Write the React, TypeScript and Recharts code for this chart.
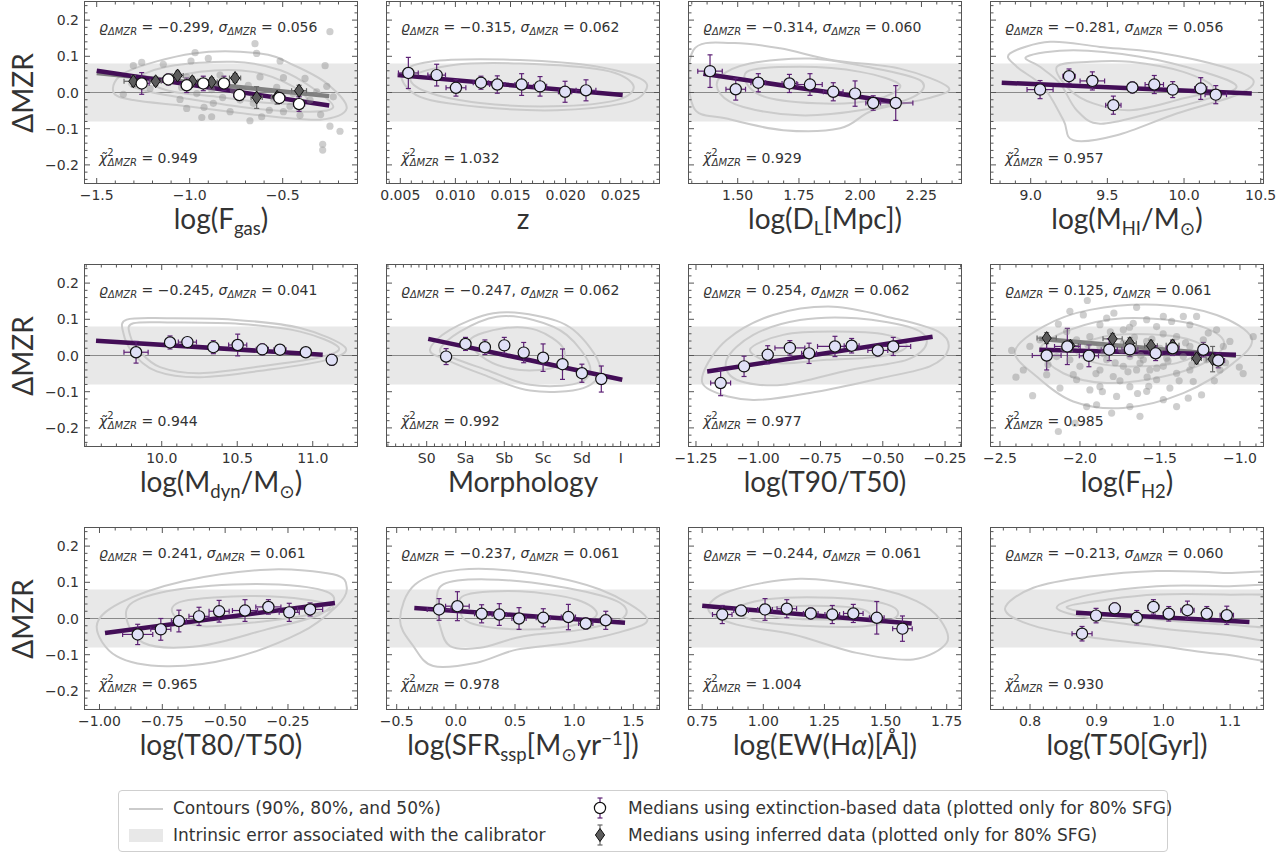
import React from 'react';
import { ComposedChart, XAxis, YAxis, Line, Area, Scatter, ErrorBar } from 'recharts';

type XY = [number, number];
type Med = [number, number, number, number]; // x, y, xerr, yerr

// ---------- values ----------
const rhoValues = [-0.299, -0.315, -0.314, -0.281, -0.245, -0.247, 0.254, 0.125, 0.241, -0.237, -0.244, -0.213];
const sigmaValues = [0.056, 0.062, 0.060, 0.056, 0.041, 0.062, 0.062, 0.061, 0.061, 0.061, 0.061, 0.060];
const chiValues = [0.949, 1.032, 0.929, 0.957, 0.944, 0.992, 0.977, 0.985, 0.965, 0.978, 1.004, 0.930];

const yMajor = [-0.2, -0.1, 0, 0.1, 0.2];
const bandLimits = [-0.08, 0.08];
const morphNames = ['S0', 'Sa', 'Sb', 'Sc', 'Sd', 'I'];

// log(Fgas)
const fgasTicks = [-1.5, -1.0, -0.5];
const fgasMedians: Med[] = [
  [-1.258, 0.025, 0.04, 0.03], [-1.115, 0.036, 0.03, 0.015], [-1.016, 0.02, 0.03, 0.02],
  [-0.927, 0.025, 0.03, 0.02], [-0.816, 0.025, 0.03, 0.02], [-0.733, -0.007, 0.03, 0.015],
  [-0.518, -0.015, 0.03, 0.015], [-0.412, -0.032, 0.03, 0.02],
];
const fgasInferred: Med[] = [
  [-1.303, 0.031, 0.05, 0.015], [-1.183, 0.031, 0.03, 0.012], [-1.065, 0.047, 0.03, 0.012],
  [-0.986, 0.031, 0.03, 0.012], [-0.882, 0.029, 0.03, 0.012], [-0.756, 0.04, 0.03, 0.012],
  [-0.64, -0.014, 0.03, 0.03], [-0.53, -0.012, 0.03, 0.02], [-0.412, 0.005, 0.04, 0.015],
];
const fgasFit: XY[] = [[-1.5, 0.06], [-0.25, -0.036]];
const fgasFitInferred: XY[] = [[-1.5, 0.054], [-0.25, -0.01]];
const fgasContours: XY[][] = [
  [[-1.411, 0.002], [-1.339, 0.057], [-0.981, 0.108], [-0.622, 0.108], [-0.443, 0.076], [-0.263, 0.025],
   [-0.156, -0.044], [-0.3, -0.075], [-0.622, -0.063], [-1.016, -0.038], [-1.303, -0.021]],
  [[-1.321, 0.029], [-1.124, 0.071], [-0.766, 0.085], [-0.515, 0.062], [-0.335, 0.011], [-0.228, -0.04],
   [-0.353, -0.053], [-0.658, -0.044], [-1.016, -0.017], [-1.249, 0.006]],
  [[-1.177, 0.025], [-0.945, 0.057], [-0.658, 0.057], [-0.443, 0.016], [-0.371, -0.026], [-0.551, -0.03],
   [-0.855, -0.012], [-1.088, 0.002]],
];
const fgasPoints: XY[] = [
  [-0.246, 0.168], [-0.649, 0.135], [-0.64, 0.108], [-0.971, 0.11], [-0.9, 0.094], [-0.993, 0.087],
  [-0.514, 0.087], [-1.258, 0.083], [-1.303, 0.074], [-1.142, 0.078], [-0.272, 0.074], [-0.38, 0.039],
  [-0.496, 0.041], [-0.532, 0.014], [-0.685, 0.02], [-0.882, 0.008], [-1.043, 0.014], [-0.823, -0.014],
  [-1.016, -0.044], [-0.923, -0.041], [-0.935, -0.069], [-0.882, -0.067], [-0.783, -0.053], [-0.676, -0.078],
  [-0.613, -0.067], [-0.572, -0.049], [-0.496, -0.053], [-0.461, -0.038], [-0.407, -0.063], [-0.296, -0.061],
  [-0.246, -0.093], [-0.192, -0.107], [-0.285, -0.143], [-0.285, -0.159], [-0.263, 0.017], [-1.357, -0.005],
  [-1.052, -0.019], [-0.765, 0.006], [-0.729, -0.021], [-1.124, 0.034], [-1.016, 0.043], [-0.837, 0.048],
  [-0.622, 0.043], [-0.443, -0.003], [-0.353, -0.021], [-1.213, 0.011], [-0.962, -0.003], [-0.55, -0.017],
  [-0.658, -0.03], [-0.873, -0.03], [-0.228, -0.012], [-0.317, 0.002],
];

// z
const zTicks = [0.005, 0.01, 0.015, 0.02, 0.025];
const zMedians: Med[] = [
  [0.00573, 0.054, 0.0009, 0.043], [0.0083, 0.048, 0.0008, 0.03], [0.01005, 0.013, 0.0009, 0.023],
  [0.01232, 0.027, 0.0007, 0.018], [0.0138, 0.022, 0.0007, 0.024], [0.01601, 0.022, 0.0006, 0.03],
  [0.01768, 0.017, 0.0006, 0.027], [0.01995, 0.002, 0.0006, 0.029], [0.02185, 0.006, 0.0009, 0.029],
];
const zFit: XY[] = [[0.00476, 0.048], [0.02518, -0.007]];
const zContours: XY[][] = [
  [[0.00513, 0.051], [0.0077, 0.085], [0.01435, 0.091], [0.02191, 0.076], [0.02675, 0.039], [0.0272, 0.002],
   [0.02524, -0.03], [0.01919, -0.049], [0.01223, -0.04], [0.00679, -0.012]],
  [[0.00603, 0.043], [0.00981, 0.076], [0.01586, 0.08], [0.02342, 0.062], [0.02614, 0.02], [0.02464, -0.021],
   [0.01888, -0.038], [0.01223, -0.029], [0.0074, 0.002]],
];

// log(DL)
const dlTicks = [1.5, 1.75, 2.0, 2.25];
const dlMedians: Med[] = [
  [1.387, 0.059, 0.05, 0.045], [1.492, 0.009, 0.04, 0.03], [1.584, 0.027, 0.03, 0.025],
  [1.711, 0.025, 0.03, 0.025], [1.795, 0.022, 0.05, 0.03], [1.89, 0.002, 0.04, 0.025],
  [1.979, -0.003, 0.02, 0.035], [2.053, -0.029, 0.03, 0.02], [2.145, -0.029, 0.07, 0.048],
];
const dlFit: XY[] = [[1.36, 0.052], [2.167, -0.029]];
const dlContours: XY[][] = [
  [[1.319, 0.117], [1.482, 0.137], [1.673, 0.122], [1.89, 0.089], [2.162, 0.066], [2.36, 0.014], [2.271, -0.017],
   [2.053, -0.049], [1.918, -0.099], [1.686, -0.104], [1.455, -0.072], [1.319, -0.04]],
  [[1.428, 0.043], [1.55, 0.08], [1.795, 0.094], [2.026, 0.071], [2.244, 0.034], [2.217, -0.012], [2.0, -0.049],
   [1.754, -0.063], [1.523, -0.04], [1.428, -0.003]],
  [[1.537, 0.057], [1.754, 0.071], [2.0, 0.057], [2.163, 0.02], [2.053, -0.021], [1.822, -0.03], [1.591, -0.007]],
];

// log(MHI)
const mhiTicks = [9.0, 9.5, 10.0, 10.5];
const mhiMedians: Med[] = [
  [9.061, 0.008, 0.085, 0.025], [9.25, 0.045, 0.04, 0.02], [9.402, 0.032, 0.08, 0.025],
  [9.539, -0.035, 0.05, 0.025], [9.663, 0.014, 0.03, 0.015], [9.806, 0.022, 0.06, 0.025],
  [9.926, 0.008, 0.03, 0.022], [10.109, 0.011, 0.04, 0.03], [10.207, -0.006, 0.07, 0.025],
];
const mhiFit: XY[] = [[8.811, 0.027], [10.442, -0.003]];
const mhiContours: XY[][] = [
  [[8.865, 0.108], [9.126, 0.14], [9.452, 0.126], [9.865, 0.108], [10.256, 0.071], [10.452, 0.034],
   [10.343, -0.007], [9.952, -0.058], [9.561, -0.118], [9.278, -0.132], [9.213, -0.076], [9.082, 0.016], [8.909, 0.071]],
  [[8.974, 0.099], [9.278, 0.117], [9.713, 0.099], [10.126, 0.057], [10.343, 0.016], [10.126, -0.021],
   [9.778, -0.058], [9.452, -0.086], [9.3, -0.049], [9.191, 0.025], [9.061, 0.071]],
  [[9.17, 0.071], [9.387, 0.085], [9.648, 0.085], [9.995, 0.057], [10.191, 0.011], [9.952, -0.021],
   [9.648, -0.049], [9.408, -0.03], [9.256, 0.007]],
];

// log(Mdyn)
const mdynTicks = [10.0, 10.5, 11.0];
const mdynMedians: Med[] = [
  [9.83, 0.009, 0.08, 0.03], [10.055, 0.036, 0.03, 0.018], [10.17, 0.037, 0.06, 0.012],
  [10.342, 0.023, 0.03, 0.018], [10.503, 0.029, 0.06, 0.03], [10.666, 0.017, 0.04, 0.015],
  [10.783, 0.016, 0.04, 0.012], [10.954, 0.009, 0.03, 0.01], [11.126, -0.012, 0.02, 0.015],
];
const mdynFit: XY[] = [[9.565, 0.041], [11.066, 0.002]];
const mdynContours: XY[][] = [
  [[9.768, 0.099], [10.033, 0.103], [10.474, 0.099], [10.916, 0.076], [11.214, 0.023], [11.093, -0.012],
   [10.695, -0.04], [10.254, -0.06], [9.967, -0.044], [9.812, 0.006], [9.746, 0.062]],
  [[9.812, 0.089], [10.077, 0.091], [10.519, 0.087], [10.916, 0.066], [11.17, 0.023], [11.048, -0.005],
   [10.673, -0.029], [10.254, -0.049], [9.989, -0.032], [9.856, 0.011], [9.79, 0.057]],
];

// Morphology (S0 = 0 ... I = 5)
const morphTicks = [0, 1, 2, 3, 4, 5];
const morphMedians: Med[] = [
  [0.5, -0.003, 0, 0.022], [1.0, 0.032, 0, 0.018], [1.5, 0.023, 0, 0.02],
  [2.0, 0.028, 0, 0.022], [2.5, 0.008, 0, 0.028], [3.0, -0.006, 0, 0.038],
  [3.5, -0.024, 0, 0.042], [4.0, -0.049, 0, 0.025], [4.5, -0.065, 0, 0.036],
];
const morphFit: XY[] = [[0.04, 0.046], [5.04, -0.067]];
const morphContours: XY[][] = [
  [[0.085, 0.016], [0.601, 0.071], [1.717, 0.117], [2.835, 0.11], [3.779, 0.071], [4.466, -0.03],
   [4.036, -0.09], [2.662, -0.097], [1.459, -0.053], [0.515, -0.012]],
  [[0.343, 0.016], [0.858, 0.066], [1.804, 0.107], [2.749, 0.098], [3.608, 0.057], [4.209, -0.03],
   [3.866, -0.077], [2.662, -0.081], [1.546, -0.04], [0.686, -0.007]],
  [[1.116, 0.043], [1.974, 0.075], [2.835, 0.07], [3.521, 0.02], [3.351, -0.03], [2.405, -0.04], [1.546, -0.012]],
];

// log(T90/T50)
const t90Ticks = [-1.25, -1.0, -0.75, -0.5, -0.25];
const t90Medians: Med[] = [
  [-1.151, -0.076, 0.04, 0.035], [-1.057, -0.03, 0.02, 0.028], [-0.962, 0.002, 0.02, 0.025],
  [-0.873, 0.021, 0.06, 0.02], [-0.796, 0.006, 0.03, 0.028], [-0.692, 0.025, 0.07, 0.028],
  [-0.625, 0.027, 0.03, 0.02], [-0.52, 0.014, 0.04, 0.015], [-0.458, 0.025, 0.07, 0.025],
];
const t90Fit: XY[] = [[-1.205, -0.044], [-0.3, 0.052]];
const t90Contours: XY[][] = [
  [[-1.221, -0.049], [-1.127, 0.043], [-0.94, 0.112], [-0.699, 0.135], [-0.458, 0.103], [-0.277, 0.066],
   [-0.237, 0.017], [-0.311, -0.03], [-0.511, -0.063], [-0.765, -0.1], [-1.02, -0.123], [-1.194, -0.095]],
  [[-1.127, -0.012], [-1.02, 0.057], [-0.833, 0.098], [-0.605, 0.103], [-0.378, 0.075], [-0.324, 0.034],
   [-0.404, -0.012], [-0.632, -0.04], [-0.9, -0.081], [-1.087, -0.067]],
  [[-1.033, 0.016], [-0.9, 0.057], [-0.699, 0.066], [-0.484, 0.057], [-0.404, 0.025], [-0.511, -0.003],
   [-0.725, -0.012], [-0.926, -0.021]],
];

// log(FH2)
const fh2Ticks = [-2.5, -2.0, -1.5, -1.0];
const fh2Medians: Med[] = [
  [-2.208, 0.0, 0.09, 0.04], [-2.079, 0.025, 0.08, 0.05], [-1.944, -0.001, 0.06, 0.03],
  [-1.817, 0.016, 0.05, 0.03], [-1.688, 0.017, 0.05, 0.02], [-1.527, 0.006, 0.04, 0.02],
  [-1.421, 0.02, 0.04, 0.02], [-1.229, 0.016, 0.03, 0.02], [-1.136, -0.014, 0.04, 0.02],
];
const fh2Inferred: Med[] = [
  [-2.208, 0.048, 0.06, 0.015], [-2.06, 0.027, 0.05, 0.015], [-1.796, 0.046, 0.06, 0.015],
  [-1.688, 0.034, 0.04, 0.015], [-1.556, 0.027, 0.04, 0.015], [-1.421, 0.028, 0.04, 0.015],
  [-1.271, -0.008, 0.03, 0.015], [-1.171, -0.01, 0.04, 0.035],
];
const fh2Fit: XY[] = [[-2.254, 0.016], [-1.025, 0.002]];
const fh2FitInferred: XY[] = [[-2.254, 0.046], [-1.025, -0.001]];
const fh2Contours: XY[][] = [
  [[-2.406, 0.011], [-2.229, 0.08], [-1.938, 0.126], [-1.521, 0.14], [-1.146, 0.112], [-0.927, 0.048],
   [-1.042, -0.021], [-1.354, -0.104], [-1.729, -0.145], [-2.042, -0.127], [-2.271, -0.058]],
  [[-2.25, 0.016], [-2.063, 0.071], [-1.729, 0.103], [-1.313, 0.089], [-1.104, 0.043], [-1.188, -0.012],
   [-1.479, -0.058], [-1.833, -0.076], [-2.104, -0.049]],
  [[-2.021, 0.025], [-1.771, 0.057], [-1.396, 0.052], [-1.229, 0.02], [-1.396, -0.021], [-1.729, -0.03], [-1.958, -0.012]],
];
const fh2Points: XY[] = [
  [-1.954, 0.152], [-2.063, 0.122], [-2.135, 0.087], [-1.788, 0.117], [-1.646, 0.133], [-1.583, 0.099],
  [-1.427, 0.094], [-1.354, 0.108], [-1.521, 0.08], [-1.198, 0.062], [-1.063, 0.039], [-0.917, 0.052],
  [-1.004, -0.032], [-2.296, -0.111], [-2.427, 0.014], [-2.354, -0.04], [-2.208, -0.053], [-2.125, -0.09],
  [-2.021, -0.067], [-1.938, -0.095], [-1.958, -0.141], [-1.896, -0.136], [-2.135, -0.21], [-2.031, -0.187],
  [-1.802, -0.159], [-1.625, -0.168], [-1.396, -0.141], [-1.323, -0.118], [-1.24, -0.109], [-1.438, -0.09],
  [-1.521, -0.067], [-1.688, -0.086], [-1.792, -0.058], [-1.875, -0.04], [-1.729, -0.03], [-1.625, -0.021],
  [-1.563, -0.04], [-1.479, -0.03], [-1.396, -0.049], [-1.313, -0.04], [-2.021, 0.043], [-1.938, 0.052],
  [-1.875, 0.025], [-1.729, 0.034], [-1.646, 0.02], [-1.583, 0.039], [-1.5, 0.02], [-1.396, 0.052],
  [-1.313, 0.025], [-1.229, 0.043], [-1.104, 0.025], [-2.25, 0.043], [-2.313, 0.025], [-2.146, -0.003],
  [-2.063, -0.012], [-1.833, -0.012], [-1.688, -0.003], [-1.604, -0.012], [-1.458, -0.007], [-1.354, -0.003],
  [-1.208, -0.012], [-2.083, 0.066], [-1.875, 0.085], [-1.729, 0.071], [-1.667, 0.089], [-1.479, 0.108],
  [-1.313, 0.085], [-1.833, 0.103], [-1.979, 0.112], [-1.646, -0.04], [-1.771, -0.113], [-1.583, -0.099],
  [-1.875, -0.086], [-2.042, -0.053], [-1.292, -0.072], [-1.125, -0.04], [-1.479, -0.122], [-1.688, -0.141],
  [-1.146, 0.071], [-1.271, 0.108],
  [-1.85, 0.005], [-1.78, -0.02], [-1.74, 0.015], [-1.7, -0.045], [-1.66, 0.05], [-1.62, 0.0],
  [-1.58, -0.06], [-1.55, 0.045], [-1.52, -0.035], [-1.48, 0.06], [-1.45, -0.015], [-1.42, 0.01],
  [-1.38, -0.07], [-1.34, 0.035], [-1.3, -0.025], [-1.9, -0.05], [-1.95, 0.03], [-2.0, -0.03],
  [-1.81, 0.065], [-1.69, 0.078], [-1.57, -0.085], [-1.64, -0.105], [-1.75, -0.07], [-1.86, -0.1],
  [-2.1, 0.02], [-2.2, -0.025], [-1.16, -0.07], [-1.09, -0.02], [-0.98, -0.05], [-2.4, -0.06],
];

// log(T80/T50)
const t80Ticks = [-1.0, -0.75, -0.5, -0.25];
const t80Medians: Med[] = [
  [-0.848, -0.044, 0.06, 0.028], [-0.756, -0.03, 0.04, 0.03], [-0.684, -0.007, 0.03, 0.03],
  [-0.604, 0.006, 0.04, 0.025], [-0.524, 0.02, 0.04, 0.03], [-0.421, 0.022, 0.05, 0.03],
  [-0.328, 0.032, 0.05, 0.02], [-0.245, 0.017, 0.04, 0.025], [-0.162, 0.025, 0.05, 0.018],
];
const t80Fit: XY[] = [[-0.978, -0.04], [-0.063, 0.043]];
const t80Contours: XY[][] = [
  [[-1.011, -0.021], [-0.918, 0.043], [-0.667, 0.103], [-0.335, 0.135], [-0.07, 0.122], [-0.016, 0.085],
   [-0.056, 0.034], [-0.202, -0.04], [-0.468, -0.109], [-0.733, -0.132], [-0.932, -0.104]],
  [[-0.892, 0.025], [-0.759, 0.071], [-0.468, 0.094], [-0.202, 0.089], [-0.07, 0.062], [-0.123, 0.011],
   [-0.335, -0.03], [-0.6, -0.076], [-0.826, -0.067]],
  [[-0.667, 0.048], [-0.401, 0.062], [-0.175, 0.052], [-0.07, 0.029], [-0.202, 0.006], [-0.401, -0.012],
   [-0.6, -0.021], [-0.706, 0.011]],
];

// log(SFRssp)
const sfrTicks = [-0.5, 0.0, 0.5, 1.0, 1.5];
const sfrMedians: Med[] = [
  [-0.142, 0.025, 0.1, 0.03], [0.013, 0.034, 0.1, 0.04], [0.218, 0.013, 0.06, 0.025],
  [0.367, 0.011, 0.06, 0.03], [0.534, 0.0, 0.06, 0.03], [0.739, 0.002, 0.06, 0.025],
  [0.951, 0.004, 0.06, 0.035], [1.098, -0.014, 0.06, 0.015], [1.267, -0.005, 0.05, 0.025],
];
const sfrFit: XY[] = [[-0.351, 0.029], [1.43, -0.012]];
const sfrContours: XY[][] = [
  [[-0.472, -0.003], [-0.345, 0.094], [0.035, 0.135], [0.627, 0.126], [1.219, 0.08], [1.613, 0.002],
   [1.416, -0.035], [0.965, -0.067], [0.514, -0.086], [0.176, -0.122], [-0.191, -0.131], [-0.36, -0.076]],
  [[-0.162, 0.034], [-0.106, 0.094], [0.261, 0.108], [0.852, 0.089], [1.36, 0.048], [1.416, 0.002],
   [1.077, -0.03], [0.57, -0.049], [0.204, -0.081], [-0.049, -0.076], [-0.134, -0.021]],
  [[0.092, 0.066], [0.542, 0.075], [1.022, 0.052], [1.191, 0.011], [0.965, -0.021], [0.514, -0.03],
   [0.12, -0.012], [0.035, 0.029]],
];

// log(EW(Ha))
const ewTicks = [0.75, 1.0, 1.25, 1.5, 1.75];
const ewMedians: Med[] = [
  [0.832, 0.011, 0.04, 0.025], [0.909, 0.022, 0.03, 0.012], [1.007, 0.025, 0.03, 0.03],
  [1.096, 0.027, 0.04, 0.025], [1.194, 0.014, 0.03, 0.015], [1.282, 0.011, 0.03, 0.025],
  [1.368, 0.014, 0.04, 0.025], [1.464, 0.002, 0.03, 0.045], [1.569, -0.028, 0.04, 0.035],
];
const ewFit: XY[] = [[0.75, 0.035], [1.607, -0.014]];
const ewContours: XY[][] = [
  [[0.775, 0.025], [0.864, 0.076], [1.15, 0.11], [1.45, 0.085], [1.627, 0.048], [1.723, -0.003],
   [1.75, -0.067], [1.613, -0.113], [1.382, -0.095], [1.123, -0.044], [0.891, -0.017]],
  [[0.891, 0.025], [1.014, 0.053], [1.286, 0.057], [1.505, 0.039], [1.546, 0.006], [1.423, -0.021],
   [1.191, -0.021], [0.973, -0.007]],
  [[1.014, 0.027], [1.191, 0.035], [1.395, 0.027], [1.423, 0.002], [1.218, -0.003], [1.041, 0.006]],
];

// log(T50)
const t50Ticks = [0.8, 0.9, 1.0, 1.1];
const t50Medians: Med[] = [
  [0.878, -0.042, 0.015, 0.02], [0.899, 0.008, 0.005, 0.02], [0.927, 0.028, 0.008, 0.015],
  [0.96, 0.002, 0.005, 0.02], [0.985, 0.032, 0.008, 0.02], [1.008, 0.013, 0.008, 0.02],
  [1.036, 0.023, 0.01, 0.025], [1.065, 0.013, 0.007, 0.02], [1.095, 0.009, 0.01, 0.025],
];
const t50Fit: XY[] = [[0.869, 0.016], [1.129, -0.01]];
const t50Contours: XY[][] = [
  [[0.7625, 0.027], [0.805, 0.085], [0.89, 0.116], [0.99, 0.131], [1.09, 0.126], [1.19, 0.108],
   [1.19, -0.104], [1.09, -0.099], [0.98, -0.072], [0.88, -0.049], [0.8, -0.017]],
  [[0.84, 0.029], [0.89, 0.066], [0.99, 0.089], [1.09, 0.089], [1.19, 0.08], [1.19, -0.058],
   [1.09, -0.044], [0.99, -0.026], [0.9, -0.003]],
  [[0.855, 0.032], [0.915, 0.052], [0.99, 0.066], [1.09, 0.066], [1.19, 0.057], [1.19, -0.021],
   [1.09, -0.016], [0.99, -0.003], [0.905, 0.011]],
];

// ---------- styling / layout ----------
const COLS = [85, 387, 689, 991];
const ROWS = [2, 265, 528];
const PW = 272;
const PH = 181;
const ML = 80;
const MR = 30;
const MT = 10;
const MB = 60;
const PURPLE = '#430e57';
const PURPLE_ERR = '#5d2175';
const CONTOUR = '#cbcbcb';
const BAND = '#e8e8e8';
const FRAME = '#555';
const TEXT = '#333';
const LAV = '#e0e0f6';
const FONT = 'Lato, "DejaVu Sans", sans-serif';
const SMALL_FONT = '"DejaVu Sans", sans-serif';

const toPts = (a: XY[]) => a.map(([x, y]) => ({ x, y }));
const toMeds = (a: Med[]) => a.map(([x, y, ex, ey]) => ({ x, y, ex, ey }));
const stepTicks = (d: number[], step: number) => {
  const out: number[] = [];
  for (let k = Math.ceil(d[0] / step - 1e-9); k * step <= d[1] + 1e-9; k++) out.push(+(k * step).toFixed(6));
  return out;
};
const fmtNum = (v: number, dec: number) => (v < -1e-9 ? '\u2212' : '') + Math.abs(v).toFixed(dec);

// closed Catmull-Rom curve through the contour points
const closedCurve = (context: any) => {
  let pts: number[][] = [];
  return {
    areaStart() {},
    areaEnd() {},
    lineStart() { pts = []; },
    point(x: number, y: number) { pts.push([+x, +y]); },
    lineEnd() {
      const n = pts.length;
      if (n < 3) return;
      context.moveTo(pts[0][0], pts[0][1]);
      for (let i = 0; i < n; i++) {
        const p0 = pts[(i - 1 + n) % n], p1 = pts[i], p2 = pts[(i + 1) % n], p3 = pts[(i + 2) % n];
        context.bezierCurveTo(
          p1[0] + (p2[0] - p0[0]) / 6, p1[1] + (p2[1] - p0[1]) / 6,
          p2[0] - (p3[0] - p1[0]) / 6, p2[1] - (p3[1] - p1[1]) / 6,
          p2[0], p2[1]);
      }
      context.closePath();
    },
  };
};

const Sub = ({ children }: { children: React.ReactNode }) => (
  <span style={{ fontSize: '0.66em', position: 'relative', top: '0.3em' }}>{children}</span>
);
const Sup = ({ children }: { children: React.ReactNode }) => (
  <span style={{ fontSize: '0.66em', position: 'relative', top: '-0.55em' }}>{children}</span>
);

type PanelCfg = {
  col: number; row: number; domain: number[]; majors: number[]; minor: number; dec: number;
  label: React.ReactNode; medians: Med[]; fit: XY[]; contours: XY[][];
  inferred?: Med[]; fitInferred?: XY[]; points?: XY[]; names?: string[]; dotFill?: string;
};

const panels: PanelCfg[] = [
  { col: 0, row: 0, domain: [-1.5629, -0.1005], majors: fgasTicks, minor: 0.1, dec: 1, label: <>log(F<Sub>gas</Sub>)</>,
    medians: fgasMedians, fit: fgasFit, contours: fgasContours, inferred: fgasInferred, fitInferred: fgasFitInferred, points: fgasPoints, dotFill: '#ffffff' },
  { col: 1, row: 0, domain: [0.003793, 0.028475], majors: zTicks, minor: 0.001, dec: 3, label: <>z</>,
    medians: zMedians, fit: zFit, contours: zContours },
  { col: 2, row: 0, domain: [1.3012, 2.4114], majors: dlTicks, minor: 0.0625, dec: 2, label: <>log(D<Sub>L</Sub>[Mpc])</>,
    medians: dlMedians, fit: dlFit, contours: dlContours },
  { col: 3, row: 0, domain: [8.741, 10.515], majors: mhiTicks, minor: 0.1, dec: 1, label: <>log(M<Sub>HI</Sub>/M<Sub>⊙</Sub>)</>,
    medians: mhiMedians, fit: mhiFit, contours: mhiContours },
  { col: 0, row: 1, domain: [9.492, 11.293], majors: mdynTicks, minor: 0.1, dec: 1, label: <>log(M<Sub>dyn</Sub>/M<Sub>⊙</Sub>)</>,
    medians: mdynMedians, fit: mdynFit, contours: mdynContours },
  { col: 1, row: 1, domain: [-1.023, 5.987], majors: morphTicks, minor: 0.2, dec: 0, label: <>Morphology</>,
    medians: morphMedians, fit: morphFit, contours: morphContours, names: morphNames },
  { col: 2, row: 1, domain: [-1.278, -0.186], majors: t90Ticks, minor: 0.0625, dec: 2, label: <>log(T90/T50)</>,
    medians: t90Medians, fit: t90Fit, contours: t90Contours },
  { col: 3, row: 1, domain: [-2.556, -0.856], majors: fh2Ticks, minor: 0.1, dec: 1, label: <>log(F<Sub>H2</Sub>)</>,
    medians: fh2Medians, fit: fh2Fit, contours: fh2Contours, inferred: fh2Inferred, fitInferred: fh2FitInferred, points: fh2Points },
  { col: 0, row: 2, domain: [-1.0577, 0.0247], majors: t80Ticks, minor: 0.0625, dec: 2, label: <>log(T80/T50)</>,
    medians: t80Medians, fit: t80Fit, contours: t80Contours },
  { col: 1, row: 2, domain: [-0.582, 1.717], majors: sfrTicks, minor: 0.1, dec: 1, label: <>log(SFR<Sub>ssp</Sub>[M<Sub>⊙</Sub>yr<Sup>−1</Sup>])</>,
    medians: sfrMedians, fit: sfrFit, contours: sfrContours },
  { col: 2, row: 2, domain: [0.696, 1.8085], majors: ewTicks, minor: 0.0625, dec: 2, label: <>log(EW(H<i>α</i>)[Å])</>,
    medians: ewMedians, fit: ewFit, contours: ewContours },
  { col: 3, row: 2, domain: [0.7415, 1.1493], majors: t50Ticks, minor: 0.02, dec: 1, label: <>log(T50[Gyr])</>,
    medians: t50Medians, fit: t50Fit, contours: t50Contours },
];

const yTicks = stepTicks([-0.25, 0.25], 0.02);

const MedianDot = (fill: string) => (p: any) => (
  <circle cx={p.cx} cy={p.cy} r={5.6} fill={fill} stroke="#111" strokeWidth={1.2} />
);
const DiamondDot = (p: any) => (
  <path d={`M${p.cx},${p.cy - 6.5}L${p.cx + 4.6},${p.cy}L${p.cx},${p.cy + 6.5}L${p.cx - 4.6},${p.cy}Z`}
    fill="#5c5c5c" stroke="#111" strokeWidth={1} />
);
const GrayDot = (p: any) => <circle cx={p.cx} cy={p.cy} r={3.6} fill="#8a8a8a" fillOpacity={0.42} />;

function Panel({ cfg, idx }: { cfg: PanelCfg; idx: number }) {
  const left = COLS[cfg.col];
  const top = ROWS[cfg.row];
  const xTicks = stepTicks(cfg.domain, cfg.minor);
  const isMajor = (v: number) => cfg.majors.some((m) => Math.abs(m - v) < 1e-6);

  const xTick = (props: any) => {
    const { x, y, payload } = props;
    const v = payload.value;
    const major = isMajor(v);
    const len = major ? 5 : 2.5;
    const label = cfg.names ? cfg.names[Math.round(v)] : fmtNum(v, cfg.dec);
    return (
      <g>
        <line x1={x} x2={x} y1={y} y2={y - len} stroke={FRAME} strokeWidth={1} />
        <line x1={x} x2={x} y1={y - PH} y2={y - PH + len} stroke={FRAME} strokeWidth={1} />
        {major && (
          <text x={x} y={y + 17} textAnchor="middle" fontSize={14} fill={TEXT} fontFamily={SMALL_FONT}>{label}</text>
        )}
      </g>
    );
  };
  const yTick = (props: any) => {
    const { x, y, payload } = props;
    const v = payload.value;
    const major = yMajor.some((m) => Math.abs(m - v) < 1e-6);
    const len = major ? 5 : 2.5;
    return (
      <g>
        <line x1={x} x2={x + len} y1={y} y2={y} stroke={FRAME} strokeWidth={1} />
        <line x1={x + PW - len} x2={x + PW} y1={y} y2={y} stroke={FRAME} strokeWidth={1} />
        {major && cfg.col === 0 && (
          <text x={x - 6} y={y + 5} textAnchor="end" fontSize={14} fill={TEXT} fontFamily={SMALL_FONT}>{fmtNum(v, 1)}</text>
        )}
      </g>
    );
  };

  const band = [
    { x: cfg.domain[0], y: bandLimits },
    { x: cfg.domain[1], y: bandLimits },
  ];
  const zero = [{ x: cfg.domain[0], y: 0 }, { x: cfg.domain[1], y: 0 }];

  return (
    <>
      <div style={{ position: 'absolute', left: left - ML, top: top - MT }}>
        <ComposedChart width={ML + PW + MR} height={MT + PH + MB} margin={{ top: MT, right: MR, bottom: 0, left: 0 }}>
          <XAxis type="number" dataKey="x" domain={cfg.domain} allowDataOverflow ticks={xTicks} interval={0}
            tick={xTick} tickLine={false} axisLine={false} tickSize={0} tickMargin={0} height={MB} />
          <YAxis type="number" dataKey="y" domain={[-0.25, 0.25]} allowDataOverflow ticks={yTicks} interval={0}
            tick={yTick} tickLine={false} axisLine={false} tickSize={0} tickMargin={0} width={ML} />
          <Area data={band} dataKey="y" type="linear" fill={BAND} fillOpacity={1} stroke="none" isAnimationActive={false} />
          <Line data={zero} dataKey="y" type="linear" stroke="#8a8a8a" strokeWidth={1} dot={false} activeDot={false} isAnimationActive={false} />
          {cfg.contours.map((c, i) => (
            <Line key={'c' + i} data={toPts(c)} dataKey="y" type={closedCurve as any} stroke={CONTOUR} strokeWidth={2}
              dot={false} activeDot={false} isAnimationActive={false} />
          ))}
          {cfg.points && (
            <Scatter data={toPts(cfg.points)} shape={GrayDot} isAnimationActive={false} />
          )}
          {cfg.fitInferred && (
            <Line data={toPts(cfg.fitInferred)} dataKey="y" type="linear" stroke="#808080" strokeWidth={4.5}
              dot={false} activeDot={false} isAnimationActive={false} />
          )}
          <Line data={toPts(cfg.fit)} dataKey="y" type="linear" stroke={PURPLE} strokeWidth={4.5}
            dot={false} activeDot={false} isAnimationActive={false} />
          {cfg.inferred && (
            <Scatter data={toMeds(cfg.inferred)} shape={DiamondDot} isAnimationActive={false}>
              <ErrorBar dataKey="ex" direction="x" width={2.5} stroke="#666" strokeWidth={1.2} isAnimationActive={false} />
              <ErrorBar dataKey="ey" direction="y" width={2.5} stroke="#666" strokeWidth={1.2} isAnimationActive={false} />
            </Scatter>
          )}
          <Scatter data={toMeds(cfg.medians)} shape={MedianDot(cfg.dotFill || LAV)} isAnimationActive={false}>
            {!cfg.names && (
              <ErrorBar dataKey="ex" direction="x" width={2.5} stroke={PURPLE_ERR} strokeWidth={1.2} isAnimationActive={false} />
            )}
            <ErrorBar dataKey="ey" direction="y" width={2.5} stroke={PURPLE_ERR} strokeWidth={1.2} isAnimationActive={false} />
          </Scatter>
        </ComposedChart>
      </div>
      <div style={{ position: 'absolute', left: left - 1, top: top - 1, width: PW + 2, height: PH + 2,
        border: `1px solid ${FRAME}`, boxSizing: 'border-box', pointerEvents: 'none' }} />
      <svg style={{ position: 'absolute', left, top, overflow: 'visible', pointerEvents: 'none' }} width={PW} height={PH}>
        <text x={14} y={30} fontSize={14} fill={TEXT} fontFamily={SMALL_FONT}>
          <tspan fontStyle="italic">ϱ</tspan>
          <tspan fontSize={10} fontStyle="italic" dy={3}>ΔMZR</tspan>
          <tspan dy={-3}>{' = ' + fmtNum(rhoValues[idx], 3) + ', '}</tspan>
          <tspan fontStyle="italic">σ</tspan>
          <tspan fontSize={10} fontStyle="italic" dy={3}>ΔMZR</tspan>
          <tspan dy={-3}>{' = ' + sigmaValues[idx].toFixed(3)}</tspan>
        </text>
        <text x={14} y={161} fontSize={14} fill={TEXT} fontFamily={SMALL_FONT}>
          <tspan fontStyle="italic">χ̃</tspan>
          <tspan fontSize={10} dy={-7}>2</tspan>
          <tspan fontSize={10} fontStyle="italic" dx={-6} dy={10}>ΔMZR</tspan>
          <tspan dy={-3}>{' = ' + chiValues[idx].toFixed(3)}</tspan>
        </text>
      </svg>
      <div style={{ position: 'absolute', left: left + PW / 2, top: top + PH + 23, transform: 'translateX(-50%)',
        fontSize: 28, lineHeight: '24px', whiteSpace: 'nowrap', color: TEXT, fontFamily: FONT }}>
        {cfg.label}
      </div>
      {cfg.col === 0 && (
        <div style={{ position: 'absolute', left: 22, top: top + PH / 2, transform: 'translate(-50%, -50%) rotate(-90deg)',
          fontSize: 28, lineHeight: 1, whiteSpace: 'nowrap', color: TEXT, fontFamily: FONT }}>
          ΔMZR
        </div>
      )}
    </>
  );
}

function LegendBox() {
  const txt: React.CSSProperties = { position: 'absolute', fontSize: 17, lineHeight: '20px', whiteSpace: 'nowrap', color: TEXT };
  return (
    <div style={{ position: 'absolute', left: 118, top: 790, width: 1050, height: 62, border: '1px solid #cfcfcf',
      borderRadius: 4, boxSizing: 'border-box', background: '#fff', fontFamily: SMALL_FONT }}>
      <svg style={{ position: 'absolute', left: 10, top: 12 }} width={34} height={12}>
        <line x1={0} x2={34} y1={6} y2={6} stroke={CONTOUR} strokeWidth={2} />
      </svg>
      <div style={{ ...txt, left: 54, top: 7 }}>Contours (90%, 80%, and 50%)</div>
      <svg style={{ position: 'absolute', left: 10, top: 38 }} width={34} height={13}>
        <rect x={0} y={0} width={34} height={13} fill={BAND} />
      </svg>
      <div style={{ ...txt, left: 54, top: 34 }}>Intrinsic error associated with the calibrator</div>
      <svg style={{ position: 'absolute', left: 464, top: 4 }} width={34} height={26}>
        <line x1={17} x2={17} y1={3} y2={23} stroke={PURPLE_ERR} strokeWidth={1.2} />
        <line x1={14.5} x2={19.5} y1={3} y2={3} stroke={PURPLE_ERR} strokeWidth={1.2} />
        <line x1={14.5} x2={19.5} y1={23} y2={23} stroke={PURPLE_ERR} strokeWidth={1.2} />
        <circle cx={17} cy={13} r={5.6} fill="#fff" stroke="#111" strokeWidth={1.2} />
      </svg>
      <div style={{ ...txt, left: 509, top: 7 }}>Medians using extinction-based data (plotted only for 80% SFG)</div>
      <svg style={{ position: 'absolute', left: 464, top: 31 }} width={34} height={26}>
        <line x1={17} x2={17} y1={3} y2={23} stroke="#666" strokeWidth={1.2} />
        <line x1={14.5} x2={19.5} y1={3} y2={3} stroke="#666" strokeWidth={1.2} />
        <line x1={14.5} x2={19.5} y1={23} y2={23} stroke="#666" strokeWidth={1.2} />
        <path d="M17,6.5L21.6,13L17,19.5L12.4,13Z" fill="#5c5c5c" stroke="#111" strokeWidth={1} />
      </svg>
      <div style={{ ...txt, left: 509, top: 34 }}>Medians using inferred data (plotted only for 80% SFG)</div>
    </div>
  );
}

export default function App() {
  return (
    <div style={{ position: 'absolute', left: 0, top: 0, width: 1288, height: 854, background: '#fff',
      fontFamily: FONT, overflow: 'hidden' }}>
      {panels.map((p, i) => <Panel key={i} cfg={p} idx={i} />)}
      <LegendBox />
    </div>
  );
}
